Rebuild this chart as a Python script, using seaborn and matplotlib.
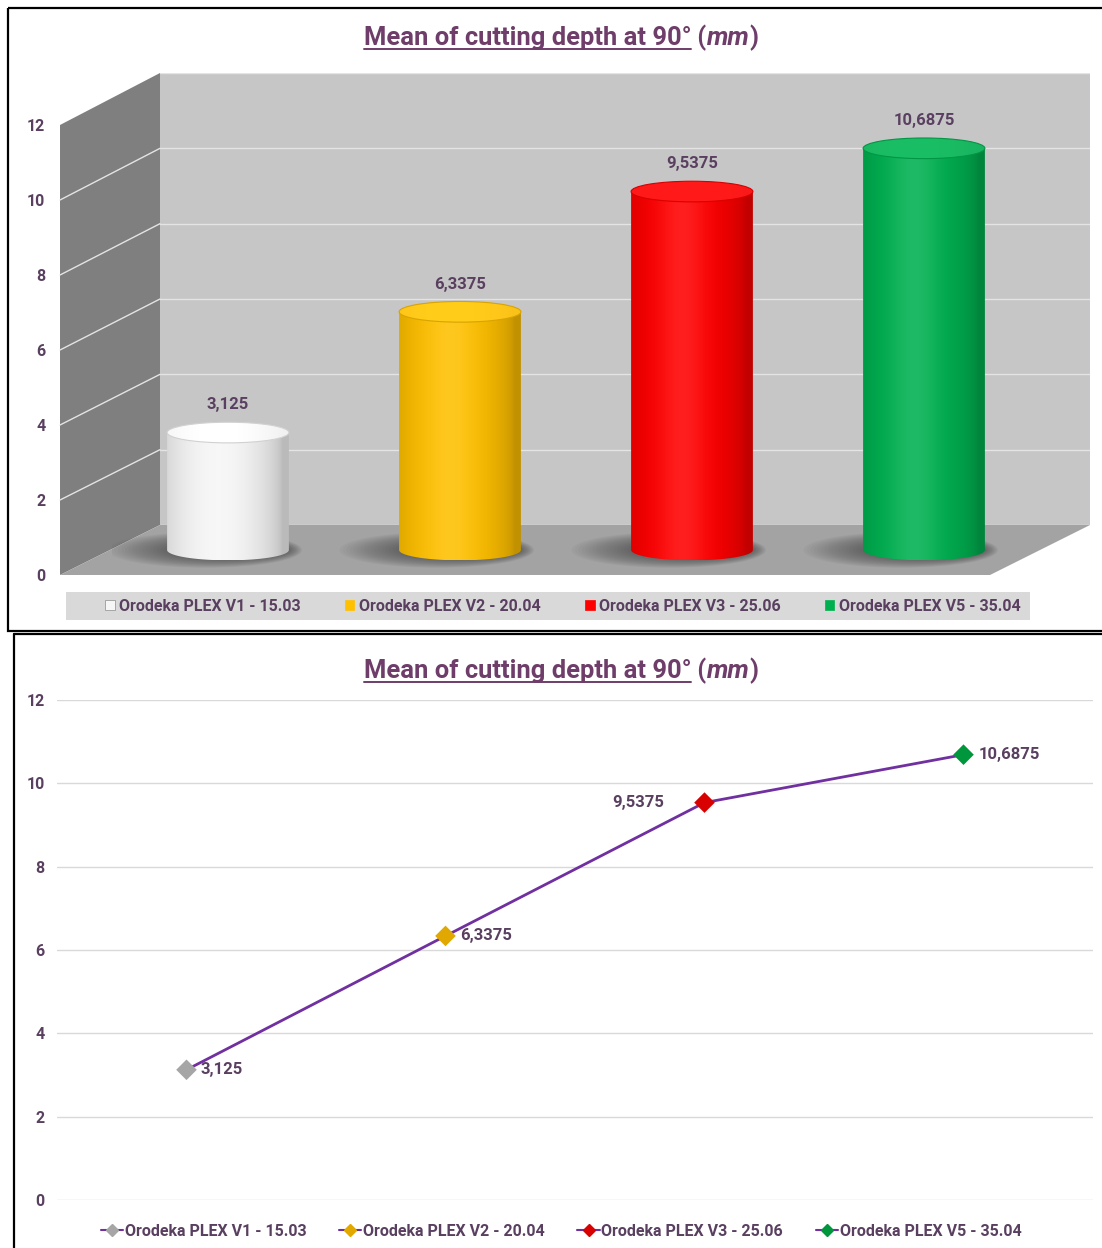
import matplotlib
matplotlib.use('Agg')
import matplotlib.pyplot as plt
import numpy as np
import seaborn as sns
from matplotlib.patches import Rectangle, Polygon, Ellipse, ConnectionPatch, Patch, PathPatch
from matplotlib.path import Path
from matplotlib.lines import Line2D
from matplotlib.colors import to_rgb

products = ['Orodeka PLEX V1 - 15.03', 'Orodeka PLEX V2 - 20.04',
            'Orodeka PLEX V3 - 25.06', 'Orodeka PLEX V5 - 35.04']
depth_mm = [3.125, 6.3375, 9.5375, 10.6875]
depth_labels = ['3,125', '6,3375', '9,5375', '10,6875']
bar_colors = ['#F6F6F6', '#FFC000', '#FF0000', '#00B050']
marker_colors = ['#A6A6A6', '#E0A800', '#D80000', '#00963C']
y_ticks = [0, 2, 4, 6, 8, 10, 12]

W, H = 1102, 1248
TXT = '#5A4060'
TITLE = '#6E3D69'
LINE = '#7030A0'
FS = 11.5

sns.set_theme(style='white')
plt.rcParams['font.family'] = ['Roboto', 'DejaVu Sans']

fig = plt.figure(figsize=(W / 100, H / 100), dpi=100)


def box(x0, y_top, x1, y_bot):
    # pixel box -> figure rect
    return [x0 / W, 1 - y_bot / H, (x1 - x0) / W, (y_bot - y_top) / H]


def fp(x, y):
    return (x / W, 1 - y / H)


# background canvas in pixel coords (walls, borders, legend band)
bg = fig.add_axes([0, 0, 1, 1], zorder=-10)
bg.set_xlim(0, W)
bg.set_ylim(H, 0)
bg.axis('off')
bg.add_patch(Polygon([(60, 125), (160, 73), (160, 525), (60, 575)], closed=True,
                     facecolor='#7F7F7F', edgecolor='none'))
bg.add_patch(Polygon([(60, 575), (160, 525), (1090, 525), (990, 575)], closed=True,
                     facecolor='#A3A3A3', edgecolor='none'))
bg.add_patch(Rectangle((66, 592), 964, 28, facecolor='#D9D9D9', edgecolor='none'))
bg.add_patch(Rectangle((8, 8), 1100, 623, facecolor='none', edgecolor='black', lw=1.6))
bg.plot([14, 14], [634, 1250], color='black', lw=1.6)
bg.plot([14, 1102], [634, 634], color='black', lw=1.6)

# ---------------- top chart: cylinder bars ----------------
ax_back = fig.add_axes(box(160, 73, 1090, 525), zorder=-5)
ax_back.set_facecolor('#C6C6C6')
ax_back.set_ylim(0, 12)
ax_back.set_yticks(y_ticks)
ax_back.set_xticks([])
ax_back.tick_params(labelleft=False, left=False)
ax_back.grid(axis='y', color='#E4E4E4', lw=1)
for s in ax_back.spines.values():
    s.set_visible(False)

ax_t = fig.add_axes(box(60, 125, 160, 575), zorder=-4)
ax_t.set_facecolor('none')
ax_t.set_ylim(0, 12)
ax_t.set_yticks(y_ticks)
ax_t.set_yticklabels([str(v) for v in y_ticks], fontweight='bold', fontsize=FS, color=TXT)
ax_t.set_xticks([])
ax_t.tick_params(axis='y', left=False, length=0, pad=10.5)
for s in ax_t.spines.values():
    s.set_visible(False)
for v in y_ticks[1:-1]:
    con = ConnectionPatch(xyA=(0, v), coordsA=ax_t.get_yaxis_transform(),
                          xyB=(0, v), coordsB=ax_back.get_yaxis_transform(),
                          color='#E4E4E4', lw=1)
    ax_t.add_artist(con)

# bar axes reaches a little below the base so the rounded bottoms show
y_low = -25 / 37.58
ax_bar = fig.add_axes(box(112, 99, 1040, 575), zorder=0)
ax_bar.set_facecolor('none')
sns.barplot(x=products, y=depth_mm, hue=products, palette=bar_colors, width=0.525,
            saturation=1, legend=False, ax=ax_bar)
ax_bar.axis('off')

eh = 0.55
t = np.linspace(0, 1, 200)
light = np.clip(np.cos((t - 0.42) * np.pi * 0.95), 0, 1)

for bar, col, lab in zip(ax_bar.patches, bar_colors, depth_labels):
    x0, w, h = bar.get_x(), bar.get_width(), bar.get_height()
    cx = x0 + w / 2
    base = np.array(to_rgb(col))
    body = base[None, :] * (0.76 + 0.24 * light[:, None] ** 0.6)
    body = body + (1 - body) * 0.12 * (light[:, None] ** 6)
    top = base[None, :] * (0.88 + 0.06 * light[:, None]) + 0.10
    bar.set_facecolor('none')
    bar.set_edgecolor('none')

    # soft floor shadow
    n = 18
    for k in range(n):
        f = k / (n - 1)
        ax_bar.add_patch(Ellipse((cx - 0.1 * (1 - f), 0.0), w * (1.6 - 0.6 * f), 0.95 - 0.45 * f,
                                 facecolor='#2E2E2E', alpha=0.035, edgecolor='none', zorder=1))

    theta = np.linspace(np.pi, 2 * np.pi, 60)
    verts = [(x0, h), (x0, 0)]
    verts += [(cx + w / 2 * np.cos(a), eh / 2 * np.sin(a)) for a in theta]
    verts += [(x0 + w, h), (x0, h)]
    clip = PathPatch(Path(verts, closed=True), facecolor='none', edgecolor='none')
    ax_bar.add_patch(clip)
    im = ax_bar.imshow(body[None, :, :], extent=(x0, x0 + w, -eh / 2, h), aspect='auto', zorder=2)
    im.set_clip_path(clip)

    lid = Ellipse((cx, h), w, eh, facecolor='none', edgecolor=tuple(base * 0.85), lw=0.8, zorder=4)
    ax_bar.add_patch(lid)
    im2 = ax_bar.imshow(np.clip(top, 0, 1)[None, :, :], extent=(x0, x0 + w, h - eh / 2, h + eh / 2),
                        aspect='auto', zorder=3)
    im2.set_clip_path(lid)

    ax_bar.annotate(lab, (cx, h), xytext=(0, 20), textcoords='offset points', ha='center',
                    va='center', fontweight='bold', fontsize=12, color=TXT)

ax_bar.set_xlim(-0.5, 3.5)
ax_bar.set_ylim(y_low, 12)

bar_handles = [Patch(facecolor=c, edgecolor='#8C8C8C' if i == 0 else c, lw=0.5)
               for i, c in enumerate(bar_colors)]
fig.legend(bar_handles, products, loc='center', bbox_to_anchor=fp(563, 606), ncol=4,
           frameon=False, handlelength=0.6, handleheight=0.6, handletextpad=0.3,
           columnspacing=2.75, prop={'weight': 'bold', 'size': FS}, labelcolor=TXT)

# ---------------- bottom chart: line ----------------
ax_line = fig.add_axes(box(57, 700, 1093, 1200))
sns.lineplot(x=products, y=depth_mm, color=LINE, lw=2, sort=False, ax=ax_line, zorder=2)
sns.scatterplot(x=products, y=depth_mm, hue=products, palette=marker_colors, marker='D',
                s=110, edgecolor='none', legend=False, ax=ax_line, zorder=3)
ax_line.set_xlim(-0.5, 3.5)
ax_line.set_ylim(0, 12)
ax_line.set_yticks(y_ticks)
ax_line.set_yticklabels([str(v) for v in y_ticks], fontweight='bold', fontsize=FS, color=TXT)
ax_line.tick_params(axis='y', left=False, length=0, pad=9)
ax_line.set_xticks([])
ax_line.set_xlabel('')
ax_line.set_ylabel('')
ax_line.grid(axis='y', color='#D9D9D9', lw=1)
sns.despine(ax=ax_line, left=True, bottom=True)

offsets = [14, 15, -40, 15]
for i, (v, lab) in enumerate(zip(depth_mm, depth_labels)):
    dx = offsets[i]
    ax_line.annotate(lab, (i, v), xytext=(dx * 0.72, 0), textcoords='offset points',
                     ha='left' if dx > 0 else 'right', va='center',
                     fontweight='bold', fontsize=12, color=TXT)

line_handles = [Line2D([], [], color=LINE, lw=1.5, marker='D', markersize=6,
                       markerfacecolor=c, markeredgecolor=c) for c in marker_colors]
fig.legend(line_handles, products, loc='center', bbox_to_anchor=fp(561, 1231), ncol=4,
           frameon=False, handlelength=1.4, handletextpad=0.1, columnspacing=2.05,
           prop={'weight': 'bold', 'size': FS}, labelcolor=TXT)


# ---------------- titles with underline ----------------
def draw_title(x_center, y_base):
    pieces = [('Mean of cutting depth at 90°', 'normal'), (' (', 'normal'),
              ('mm', 'italic'), (')', 'normal')]
    renderer = fig.canvas.get_renderer()
    texts, widths = [], []
    for s, style in pieces:
        tx = bg.text(0, y_base, s, fontsize=18.4, fontweight='bold', style=style,
                     color=TITLE, ha='left', va='baseline')
        widths.append(tx.get_window_extent(renderer).width)
        texts.append(tx)
    x = x_center - sum(widths) / 2
    for tx, wd in zip(texts, widths):
        tx.set_x(x)
        x += wd
    bg.plot([x_center - sum(widths) / 2, x_center - sum(widths) / 2 + widths[0]],
            [y_base + 4, y_base + 4], color=TITLE, lw=1.4)


draw_title(561, 45)
draw_title(561, 678)

fig.savefig('out.png', dpi=100)
